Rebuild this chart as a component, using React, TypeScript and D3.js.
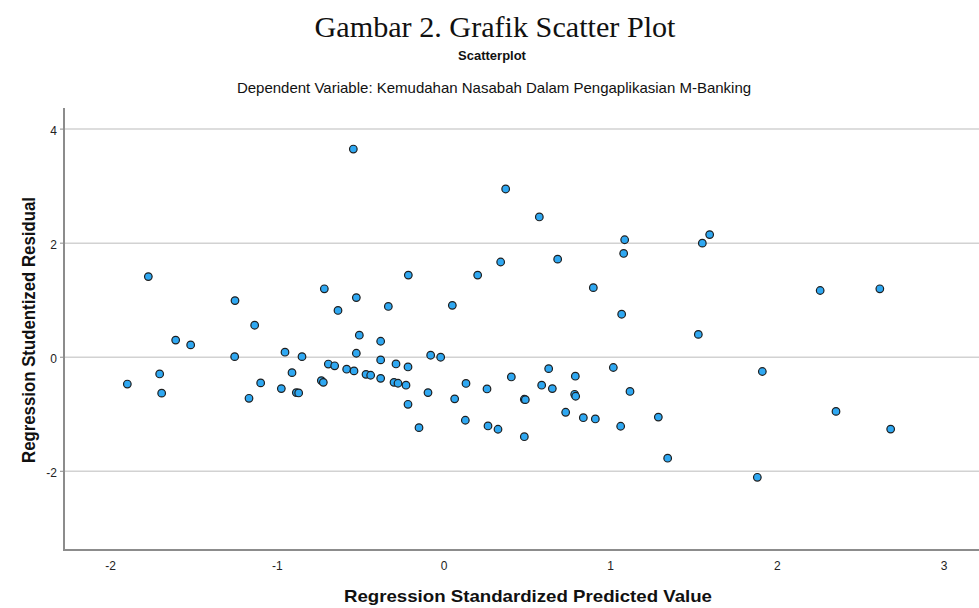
import React from "react"
import * as d3 from "d3"

// Regression Standardized Predicted Value (x) and Studentized Residual (y)
const predicted = [
  -1.9, -1.774, -1.706, -1.694, -1.61, -1.52, -1.254, -1.256, -1.136, -1.17,
  -1.1, -0.954, -0.976, -0.912, -0.852, -0.886, -0.872, -0.718, -0.736, -0.724,
  -0.694, -0.656, -0.636, -0.584, -0.54, -0.544, -0.526, -0.508, -0.526, -0.468,
  -0.44, -0.38, -0.38, -0.38, -0.334, -0.288, -0.3, -0.276, -0.228, -0.216,
  -0.216, -0.214, -0.15, -0.096, -0.08, -0.02, 0.05, 0.064, 0.132, 0.128,
  0.202, 0.258, 0.264, 0.324, 0.34, 0.37, 0.404, 0.482, 0.488, 0.482,
  0.572, 0.586, 0.628, 0.65, 0.682, 0.73, 0.788, 0.784, 0.79, 0.836,
  0.896, 0.908, 1.016, 1.06, 1.066, 1.078, 1.084, 1.116, 1.286, 1.342,
  1.526, 1.55, 1.594, 1.88, 1.91, 2.257, 2.352, 2.615, 2.68
]
const residual = [
  -0.47, 1.414, -0.293, -0.63, 0.3, 0.216, 0.993, 0.01, 0.561, -0.72,
  -0.45, 0.088, -0.55, -0.27, 0.01, -0.62, -0.626, 1.2, -0.41, -0.44,
  -0.12, -0.15, 0.82, -0.21, -0.24, 3.65, 1.046, 0.386, 0.07, -0.3,
  -0.316, 0.28, -0.047, -0.37, 0.89, -0.118, -0.44, -0.456, -0.49, -0.17,
  -0.825, 1.44, -1.235, -0.62, 0.035, 0.0, 0.91, -0.73, -0.46, -1.105,
  1.44, -0.556, -1.205, -1.263, 1.67, 2.95, -0.346, -0.737, -0.744, -1.393,
  2.46, -0.49, -0.2, -0.55, 1.72, -0.965, -0.333, -0.65, -0.684, -1.06,
  1.22, -1.082, -0.18, -1.21, 0.754, 1.82, 2.06, -0.6, -1.05, -1.77,
  0.4, 2.0, 2.15, -2.105, -0.25, 1.17, -0.95, 1.2, -1.26
]
const xTicks = [-2, -1, 0, 1, 2, 3]
const yTicks = [-2, 0, 2, 4]

const pageTitle = "Gambar 2. Grafik Scatter Plot"
const chartTitle = "Scatterplot"
const subTitle = "Dependent Variable: Kemudahan Nasabah Dalam Pengaplikasian M-Banking"
const xLabel = "Regression Standardized Predicted Value"
const yLabel = "Regression Studentized Residual"

const width = 979
const height = 608
const plot = { left: 64, right: 979, top: 108, bottom: 550 }

export default function App() {
  const x = d3.scaleLinear().domain([-2.28, 3.21]).range([plot.left, plot.right])
  const y = d3.scaleLinear().domain([-3.38, 4.37]).range([plot.bottom, plot.top])
  const sans = "'Liberation Sans', Arial, sans-serif"

  return (
    <svg
      width={width}
      height={height}
      style={{ position: "absolute", left: 0, top: 0, background: "#fff" }}
    >
      <text x={495} y={37} textAnchor="middle" fontFamily="'Liberation Serif', serif" fontSize={29}
        textLength={361} lengthAdjust="spacingAndGlyphs" fill="#111">
        {pageTitle}
      </text>
      <text x={492} y={60} textAnchor="middle" fontFamily={sans} fontSize={13} fontWeight="bold" fill="#111">
        {chartTitle}
      </text>
      <text x={494} y={93} textAnchor="middle" fontFamily={sans} fontSize={15} fill="#111">
        {subTitle}
      </text>

      {/* gridlines */}
      {yTicks.map(t => (
        <line key={t} x1={plot.left} x2={plot.right} y1={y(t)} y2={y(t)} stroke="#d2d2d2" strokeWidth={1.5} />
      ))}

      {/* axes */}
      <line x1={plot.left} x2={plot.left} y1={plot.top} y2={plot.bottom + 1} stroke="#8c8c8c" strokeWidth={2} />
      <line x1={plot.left} x2={plot.right} y1={plot.bottom} y2={plot.bottom} stroke="#8c8c8c" strokeWidth={2} />

      {yTicks.map(t => (
        <g key={t}>
          <line x1={plot.left - 4} x2={plot.left} y1={y(t)} y2={y(t)} stroke="#8c8c8c" strokeWidth={1} />
          <text x={plot.left - 7} y={y(t) + 6} textAnchor="end" fontFamily={sans} fontSize={12} fill="#222">
            {t}
          </text>
        </g>
      ))}
      {xTicks.map(t => (
        <text key={t} x={x(t)} y={570} textAnchor="middle" fontFamily={sans} fontSize={12} fill="#222">
          {t}
        </text>
      ))}

      <text x={528} y={602} textAnchor="middle" fontFamily={sans} fontSize={17} fontWeight="bold"
        textLength={368} lengthAdjust="spacingAndGlyphs" fill="#111">
        {xLabel}
      </text>
      <text
        transform={`translate(35, ${330}) rotate(-90)`}
        textAnchor="middle"
        fontFamily={sans}
        fontSize={18}
        fontWeight="bold"
        textLength={266}
        lengthAdjust="spacingAndGlyphs"
        fill="#111"
      >
        {yLabel}
      </text>

      {predicted.map((p, i) => (
        <circle key={i} cx={x(p)} cy={y(residual[i])} r={3.8} fill="#2fa8f2" stroke="#1e1e1e" strokeWidth={1.2} />
      ))}
    </svg>
  )
}
